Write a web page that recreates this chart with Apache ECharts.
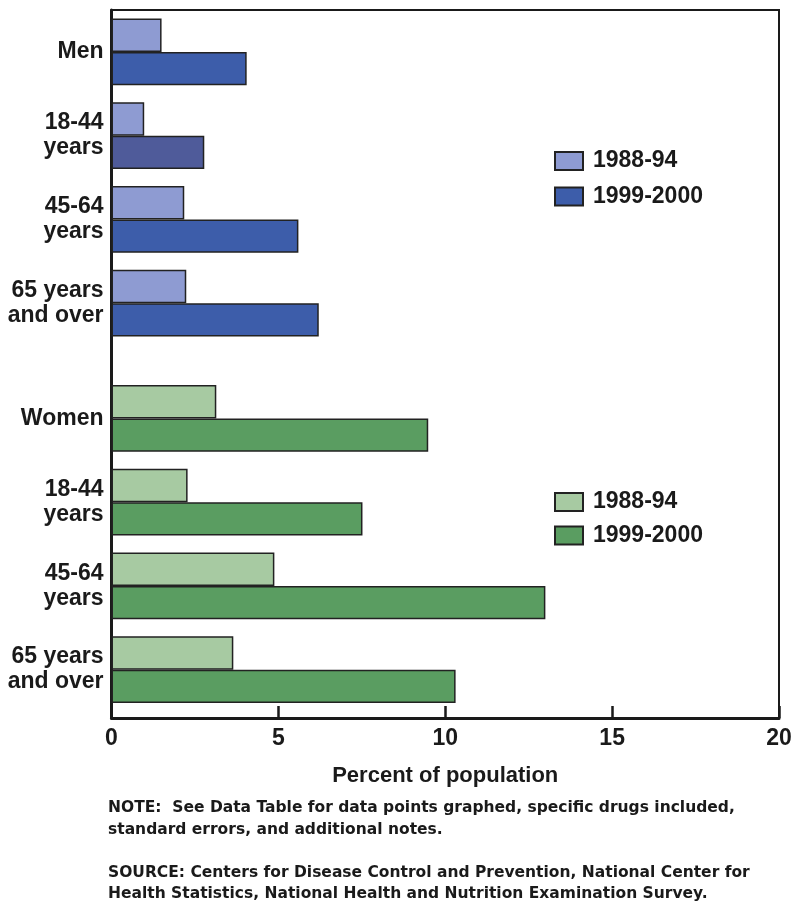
<!DOCTYPE html>
<html>
<head>
<meta charset="utf-8">
<script src="https://cdn.jsdelivr.net/npm/echarts@6/dist/echarts.min.js"></script>
<style>
html,body{margin:0;padding:0;background:#fff;}
#chart{width:800px;height:924px;}
</style>
</head>
<body>
<div id="chart"></div>
<script>
// ---- data ----
const menCategories = ['Men', '18-44\nyears', '45-64\nyears', '65 years\nand over'];
const womenCategories = ['Women', '18-44\nyears', '45-64\nyears', '65 years\nand over'];
const men1988 = [1.5, 0.98, 2.18, 2.24];
const men1999 = [4.05, 2.78, 5.6, 6.21];
const women1988 = [3.14, 2.28, 4.88, 3.65];
const women1999 = [9.49, 7.52, 13.0, 10.31];
const periodNames = ['1988-94', '1999-2000'];
const xTicks = [0, 5, 10, 15, 20];
const axisTitle = 'Percent of population';
const noteText = 'NOTE:  See Data Table for data points graphed, specific drugs included,\nstandard errors, and additional notes.';
const sourceText = 'SOURCE: Centers for Disease Control and Prevention, National Center for\nHealth Statistics, National Health and Nutrition Examination Survey.';

// ---- styles ----
const FONT = '"Liberation Sans", Arial, sans-serif';
const NOTE_FONT = '"DejaVu Sans", "Liberation Sans", sans-serif';
const INK = '#1a1a1a';
const C_MEN_L = '#8E9BD2', C_MEN_D = '#3D5DAA', C_MEN_ODD = '#4F5B9A';
const C_WOM_L = '#A7CAA2', C_WOM_D = '#5A9D61';
const BAR_W = 33.4;

const chart = echarts.init(document.getElementById('chart'), null, {renderer: 'canvas'});

function catAxis(idx, cats) {
  return {
    type: 'category', gridIndex: idx, data: cats, inverse: true,
    axisLine: {show: false}, axisTick: {show: false}, splitLine: {show: false},
    axisLabel: {
      margin: 8, color: INK, fontFamily: FONT, fontWeight: 'bold', fontSize: 23,
      lineHeight: 25, align: 'right', padding: [4, 0, 0, 0]
    }
  };
}
function hiddenX(idx) {
  return {type: 'value', gridIndex: idx, min: xTicks[0], max: xTicks[xTicks.length - 1], show: false};
}
function barSeries(name, xi, data, color) {
  return {
    type: 'bar', name: name, xAxisIndex: xi, yAxisIndex: xi, data: data,
    barWidth: BAR_W, barGap: '0%',
    itemStyle: {color: color, borderColor: '#222', borderWidth: 1.5},
    emphasis: {disabled: true}, animation: false
  };
}
function legendFor(prefix, top, gap) {
  return {
    orient: 'vertical', left: 554, top: top, padding: 0,
    itemWidth: 28, itemHeight: 18, itemGap: gap, icon: 'rect',
    data: periodNames.map(p => prefix + ' ' + p),
    formatter: n => n.replace(/^(Men|Women) /, ''),
    textStyle: {color: INK, fontFamily: FONT, fontWeight: 'bold', fontSize: 23, lineHeight: 18, padding: [0, 0, 0, 5]},
    selectedMode: false
  };
}

const option = {
  backgroundColor: '#fff',
  animation: false,
  grid: [
    {left: 111.5, right: 21, top: 10, bottom: 206, show: true, borderColor: INK, borderWidth: 2, backgroundColor: 'transparent'},
    {left: 111.5, right: 21, top: 10, height: 335},
    {left: 111.5, right: 21, top: 376.5, height: 335}
  ],
  xAxis: [
    {
      type: 'value', gridIndex: 0, min: xTicks[0], max: xTicks[xTicks.length - 1], interval: 5,
      axisLine: {show: true, lineStyle: {color: INK, width: 3}},
      axisTick: {show: true, inside: true, length: 12, lineStyle: {color: INK, width: 2.5}},
      splitLine: {show: false},
      axisLabel: {margin: 9, color: INK, fontFamily: FONT, fontWeight: 'bold', fontSize: 23},
      name: axisTitle, nameLocation: 'middle', nameGap: 47,
      nameTextStyle: {color: INK, fontFamily: FONT, fontWeight: 'bold', fontSize: 22}
    },
    hiddenX(1), hiddenX(2)
  ],
  yAxis: [
    {type: 'value', gridIndex: 0, axisLine: {show: true, lineStyle: {color: INK, width: 3}},
     axisTick: {show: false}, axisLabel: {show: false}, splitLine: {show: false}},
    catAxis(1, menCategories), catAxis(2, womenCategories)
  ],
  legend: [legendFor('Men', 149.5, 12.5), legendFor('Women', 490.5, 10.5)],
  series: [
    barSeries('Men ' + periodNames[0], 1, men1988, C_MEN_L),
    barSeries('Men ' + periodNames[1], 1, men1999.map((v, i) => i === 1 ? {value: v, itemStyle: {color: C_MEN_ODD}} : v), C_MEN_D),
    barSeries('Women ' + periodNames[0], 2, women1988, C_WOM_L),
    barSeries('Women ' + periodNames[1], 2, women1999, C_WOM_D)
  ],
  graphic: [
    {type: 'text', left: 108, top: 797, style: {text: noteText, fill: INK, font: 'bold 15.5px ' + NOTE_FONT, lineHeight: 22}},
    {type: 'text', left: 108, top: 862, style: {text: sourceText, fill: INK, font: 'bold 15.5px ' + NOTE_FONT, lineHeight: 21}}
  ]
};
chart.setOption(option);
</script>
</body>
</html>
